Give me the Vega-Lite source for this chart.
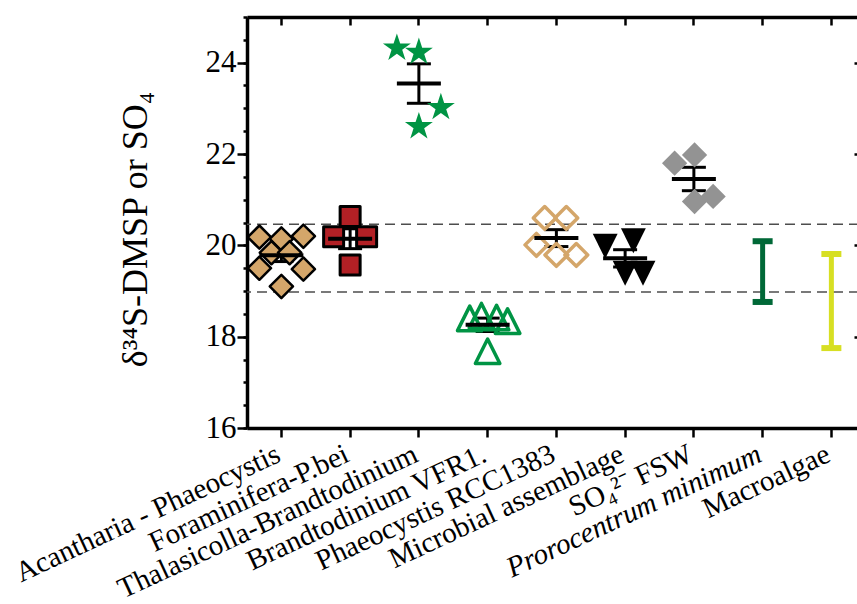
{
  "$schema": "https://vega.github.io/schema/vega-lite/v6.json",
  "width": 612,
  "height": 411,
  "autosize": {"type": "none"},
  "padding": {"left": 247, "top": 17, "right": 0, "bottom": 176},
  "background": "white",
  "config": {
    "view": {"stroke": null},
    "font": "Liberation Serif",
    "axis": {"domainColor": "black", "tickColor": "black", "labelColor": "black", "titleColor": "black", "grid": false, "labelFont": "Liberation Serif", "titleFont": "Liberation Serif"}
  },
  "datasets": {
    "pts": [
      {"g": "Acantharia - Phaeocystis", "v": 20.18, "j": -0.32},
      {"g": "Acantharia - Phaeocystis", "v": 20.14, "j": 0.0},
      {"g": "Acantharia - Phaeocystis", "v": 20.20, "j": 0.32},
      {"g": "Acantharia - Phaeocystis", "v": 19.84, "j": -0.145},
      {"g": "Acantharia - Phaeocystis", "v": 19.84, "j": 0.12},
      {"g": "Acantharia - Phaeocystis", "v": 19.50, "j": -0.32},
      {"g": "Acantharia - Phaeocystis", "v": 19.48, "j": 0.32},
      {"g": "Acantharia - Phaeocystis", "v": 19.10, "j": 0.0},
      {"g": "Foraminifera-P.bei", "v": 20.63, "j": 0.0},
      {"g": "Foraminifera-P.bei", "v": 20.19, "j": -0.24},
      {"g": "Foraminifera-P.bei", "v": 20.19, "j": 0.24},
      {"g": "Foraminifera-P.bei", "v": 19.57, "j": 0.0},
      {"g": "Thalasicolla-Brandtodinium", "v": 24.32, "j": -0.32},
      {"g": "Thalasicolla-Brandtodinium", "v": 24.23, "j": 0.0},
      {"g": "Thalasicolla-Brandtodinium", "v": 23.02, "j": 0.32},
      {"g": "Thalasicolla-Brandtodinium", "v": 22.60, "j": 0.0},
      {"g": "Brandtodinium VFR1.", "v": 18.40, "j": -0.26},
      {"g": "Brandtodinium VFR1.", "v": 18.46, "j": -0.09},
      {"g": "Brandtodinium VFR1.", "v": 18.42, "j": 0.13},
      {"g": "Brandtodinium VFR1.", "v": 18.34, "j": 0.29},
      {"g": "Brandtodinium VFR1.", "v": 17.68, "j": 0.0},
      {"g": "Phaeocystis RCC1383", "v": 20.60, "j": -0.17},
      {"g": "Phaeocystis RCC1383", "v": 20.60, "j": 0.145},
      {"g": "Phaeocystis RCC1383", "v": 20.01, "j": -0.29},
      {"g": "Phaeocystis RCC1383", "v": 19.79, "j": 0.0},
      {"g": "Phaeocystis RCC1383", "v": 19.79, "j": 0.29},
      {"g": "Microbial assemblage", "v": 19.98, "j": -0.29},
      {"g": "Microbial assemblage", "v": 20.10, "j": 0.12},
      {"g": "Microbial assemblage", "v": 19.39, "j": 0.0},
      {"g": "Microbial assemblage", "v": 19.39, "j": 0.26},
      {"g": "SO₄²⁻ FSW", "v": 21.80, "j": -0.28},
      {"g": "SO₄²⁻ FSW", "v": 21.98, "j": 0.01},
      {"g": "SO₄²⁻ FSW", "v": 20.96, "j": 0.01},
      {"g": "SO₄²⁻ FSW", "v": 21.07, "j": 0.28}
    ],
    "ranges": [
      {"g": "Prorocentrum minimum", "lo": 18.76, "hi": 20.09},
      {"g": "Macroalgae", "lo": 17.75, "hi": 19.81}
    ],
    "refs": [{"v": 20.46}, {"v": 18.98}]
  },
  "resolve": {"axis": {"x": "independent", "y": "independent"}},
  "layer": [
    {
      "data": {"name": "refs"},
      "mark": {"type": "rule", "color": "#4d4d4d", "strokeWidth": 1.5, "strokeDash": [10, 6]},
      "encoding": {
        "y": {"field": "v", "type": "quantitative",
          "scale": {"domain": [16, 25], "nice": false, "zero": false},
          "axis": {"orient": "left", "values": [16, 18, 20, 22, 24], "tickSize": 10, "tickWidth": 2.5, "domainWidth": 3.5, "labelFontSize": 31, "labelPadding": 1, "title": "δ³⁴S-DMSP or SO₄", "titleFontSize": 36, "titleFontWeight": "normal", "titlePadding": 51, "titleY": 212}}
      }
    },
    {
      "data": {"name": "pts"},
      "mark": {"type": "errorbar", "extent": "stderr", "ticks": {"size": 24, "thickness": 3, "color": "black", "opacity": 1}, "rule": {"strokeWidth": 3, "color": "black", "opacity": 1}},
      "encoding": {
        "x": {"field": "g", "type": "nominal",
          "scale": {"type": "band", "domain": ["Acantharia - Phaeocystis", "Foraminifera-P.bei", "Thalasicolla-Brandtodinium", "Brandtodinium VFR1.", "Phaeocystis RCC1383", "Microbial assemblage", "SO₄²⁻ FSW", "Prorocentrum minimum", "Macroalgae"], "range": [0, 618.75], "paddingInner": 0, "paddingOuter": 0},
          "axis": null},
        "y": {"field": "v", "type": "quantitative", "scale": {"domain": [16, 25], "nice": false, "zero": false}, "axis": null}
      }
    },
    {
      "data": {"name": "pts"},
      "encoding": {
        "x": {"field": "g", "type": "nominal",
          "scale": {"type": "band", "domain": ["Acantharia - Phaeocystis", "Foraminifera-P.bei", "Thalasicolla-Brandtodinium", "Brandtodinium VFR1.", "Phaeocystis RCC1383", "Microbial assemblage", "SO₄²⁻ FSW", "Prorocentrum minimum", "Macroalgae"], "range": [0, 618.75], "paddingInner": 0, "paddingOuter": 0},
          "axis": null},
        "xOffset": {"field": "j", "type": "quantitative", "scale": {"domain": [-0.5, 0.5]}},
        "y": {"field": "v", "type": "quantitative", "scale": {"domain": [16, 25], "nice": false, "zero": false}, "axis": null}
      },
      "layer": [
        {"transform": [{"filter": "datum.g === 'Acantharia - Phaeocystis'"}],
         "mark": {"type": "point", "shape": "diamond", "filled": true, "fill": "#D4A66A", "stroke": "black", "strokeWidth": 2.5, "strokeJoin": "round", "size": 540, "opacity": 1}},
        {"transform": [{"filter": "datum.g === 'Foraminifera-P.bei'"}],
         "mark": {"type": "point", "shape": "square", "filled": true, "fill": "#B22025", "stroke": "black", "strokeWidth": 3, "strokeJoin": "round", "size": 400, "opacity": 1}},
        {"transform": [{"filter": "datum.g === 'Thalasicolla-Brandtodinium'"}],
         "mark": {"type": "point", "shape": "M0,-1L0.225,-0.309L0.951,-0.309L0.363,0.118L0.588,0.809L0,0.382L-0.588,0.809L-0.363,0.118L-0.951,-0.309L-0.225,-0.309Z", "filled": true, "fill": "#009444", "size": 860, "opacity": 1}},
        {"transform": [{"filter": "datum.g === 'Brandtodinium VFR1.'"}],
         "mark": {"type": "point", "shape": "M0,-1L1,1L-1,1Z", "filled": false, "stroke": "#009444", "strokeWidth": 3.5, "strokeJoin": "round", "size": 600, "opacity": 1}},
        {"transform": [{"filter": "datum.g === 'Phaeocystis RCC1383'"}],
         "mark": {"type": "point", "shape": "diamond", "filled": false, "stroke": "#D4A66A", "strokeWidth": 3.5, "strokeJoin": "round", "size": 520, "opacity": 1}},
        {"transform": [{"filter": "datum.g === 'Microbial assemblage'"}],
         "mark": {"type": "point", "shape": "M-1,-1L1,-1L0,1Z", "filled": true, "fill": "black", "size": 620, "opacity": 1}},
        {"transform": [{"filter": "datum.g === 'SO₄²⁻ FSW'"}],
         "mark": {"type": "point", "shape": "diamond", "filled": true, "fill": "#939393", "size": 640, "opacity": 1}}
      ]
    },
    {
      "data": {"name": "pts"},
      "mark": {"type": "tick", "color": "black", "size": 44, "thickness": 4, "opacity": 1},
      "encoding": {
        "x": {"field": "g", "type": "nominal",
          "scale": {"type": "band", "domain": ["Acantharia - Phaeocystis", "Foraminifera-P.bei", "Thalasicolla-Brandtodinium", "Brandtodinium VFR1.", "Phaeocystis RCC1383", "Microbial assemblage", "SO₄²⁻ FSW", "Prorocentrum minimum", "Macroalgae"], "range": [0, 618.75], "paddingInner": 0, "paddingOuter": 0},
          "axis": {"orient": "bottom", "title": null, "domainWidth": 3.5, "tickSize": 9, "tickWidth": 2.5, "labelAngle": -25, "labelAlign": "right", "labelBaseline": "middle", "labelFontSize": 29, "labelPadding": 15, "labelOffset": -3, "labelLimit": 500,
            "labelFontStyle": {"condition": {"test": "datum.value === 'Prorocentrum minimum'", "value": "italic"}, "value": "normal"}}},
        "y": {"field": "v", "type": "quantitative", "aggregate": "mean",
          "scale": {"domain": [16, 25], "nice": false, "zero": false},
          "axis": {"orient": "left", "values": [16, 16.5, 17, 17.5, 18, 18.5, 19, 19.5, 20, 20.5, 21, 21.5, 22, 22.5, 23, 23.5, 24, 24.5, 25], "labels": false, "domain": false, "tickSize": 4, "tickWidth": 2.5, "title": null}}
      }
    },
    {
      "data": {"name": "ranges"},
      "mark": {"type": "rule", "strokeWidth": 5},
      "encoding": {
        "x": {"field": "g", "type": "nominal",
          "scale": {"type": "band", "domain": ["Acantharia - Phaeocystis", "Foraminifera-P.bei", "Thalasicolla-Brandtodinium", "Brandtodinium VFR1.", "Phaeocystis RCC1383", "Microbial assemblage", "SO₄²⁻ FSW", "Prorocentrum minimum", "Macroalgae"], "range": [0, 618.75], "paddingInner": 0, "paddingOuter": 0},
          "axis": {"orient": "top", "title": null, "labels": false, "domainWidth": 3.5, "tickSize": -8, "tickWidth": 2.5}},
        "y": {"field": "lo", "type": "quantitative",
          "scale": {"domain": [16, 25], "nice": false, "zero": false},
          "axis": {"orient": "right", "values": [16, 18, 20, 22, 24], "labels": false, "title": null, "domainWidth": 3.5, "tickSize": -5, "tickWidth": 2.5}},
        "y2": {"field": "hi"},
        "color": {"field": "g", "type": "nominal", "scale": {"domain": ["Prorocentrum minimum", "Macroalgae"], "range": ["#006837", "#D7DF23"]}, "legend": null}
      }
    },
    {
      "data": {"name": "ranges"},
      "mark": {"type": "tick", "size": 20, "thickness": 6, "opacity": 1},
      "encoding": {
        "x": {"field": "g", "type": "nominal",
          "scale": {"type": "band", "domain": ["Acantharia - Phaeocystis", "Foraminifera-P.bei", "Thalasicolla-Brandtodinium", "Brandtodinium VFR1.", "Phaeocystis RCC1383", "Microbial assemblage", "SO₄²⁻ FSW", "Prorocentrum minimum", "Macroalgae"], "range": [0, 618.75], "paddingInner": 0, "paddingOuter": 0},
          "axis": null},
        "y": {"field": "lo", "type": "quantitative", "scale": {"domain": [16, 25], "nice": false, "zero": false}, "axis": null},
        "color": {"field": "g", "type": "nominal", "scale": {"domain": ["Prorocentrum minimum", "Macroalgae"], "range": ["#006837", "#D7DF23"]}, "legend": null}
      }
    },
    {
      "data": {"name": "ranges"},
      "mark": {"type": "tick", "size": 20, "thickness": 6, "opacity": 1},
      "encoding": {
        "x": {"field": "g", "type": "nominal",
          "scale": {"type": "band", "domain": ["Acantharia - Phaeocystis", "Foraminifera-P.bei", "Thalasicolla-Brandtodinium", "Brandtodinium VFR1.", "Phaeocystis RCC1383", "Microbial assemblage", "SO₄²⁻ FSW", "Prorocentrum minimum", "Macroalgae"], "range": [0, 618.75], "paddingInner": 0, "paddingOuter": 0},
          "axis": null},
        "y": {"field": "hi", "type": "quantitative", "scale": {"domain": [16, 25], "nice": false, "zero": false}, "axis": null},
        "color": {"field": "g", "type": "nominal", "scale": {"domain": ["Prorocentrum minimum", "Macroalgae"], "range": ["#006837", "#D7DF23"]}, "legend": null}
      }
    }
  ]
}
